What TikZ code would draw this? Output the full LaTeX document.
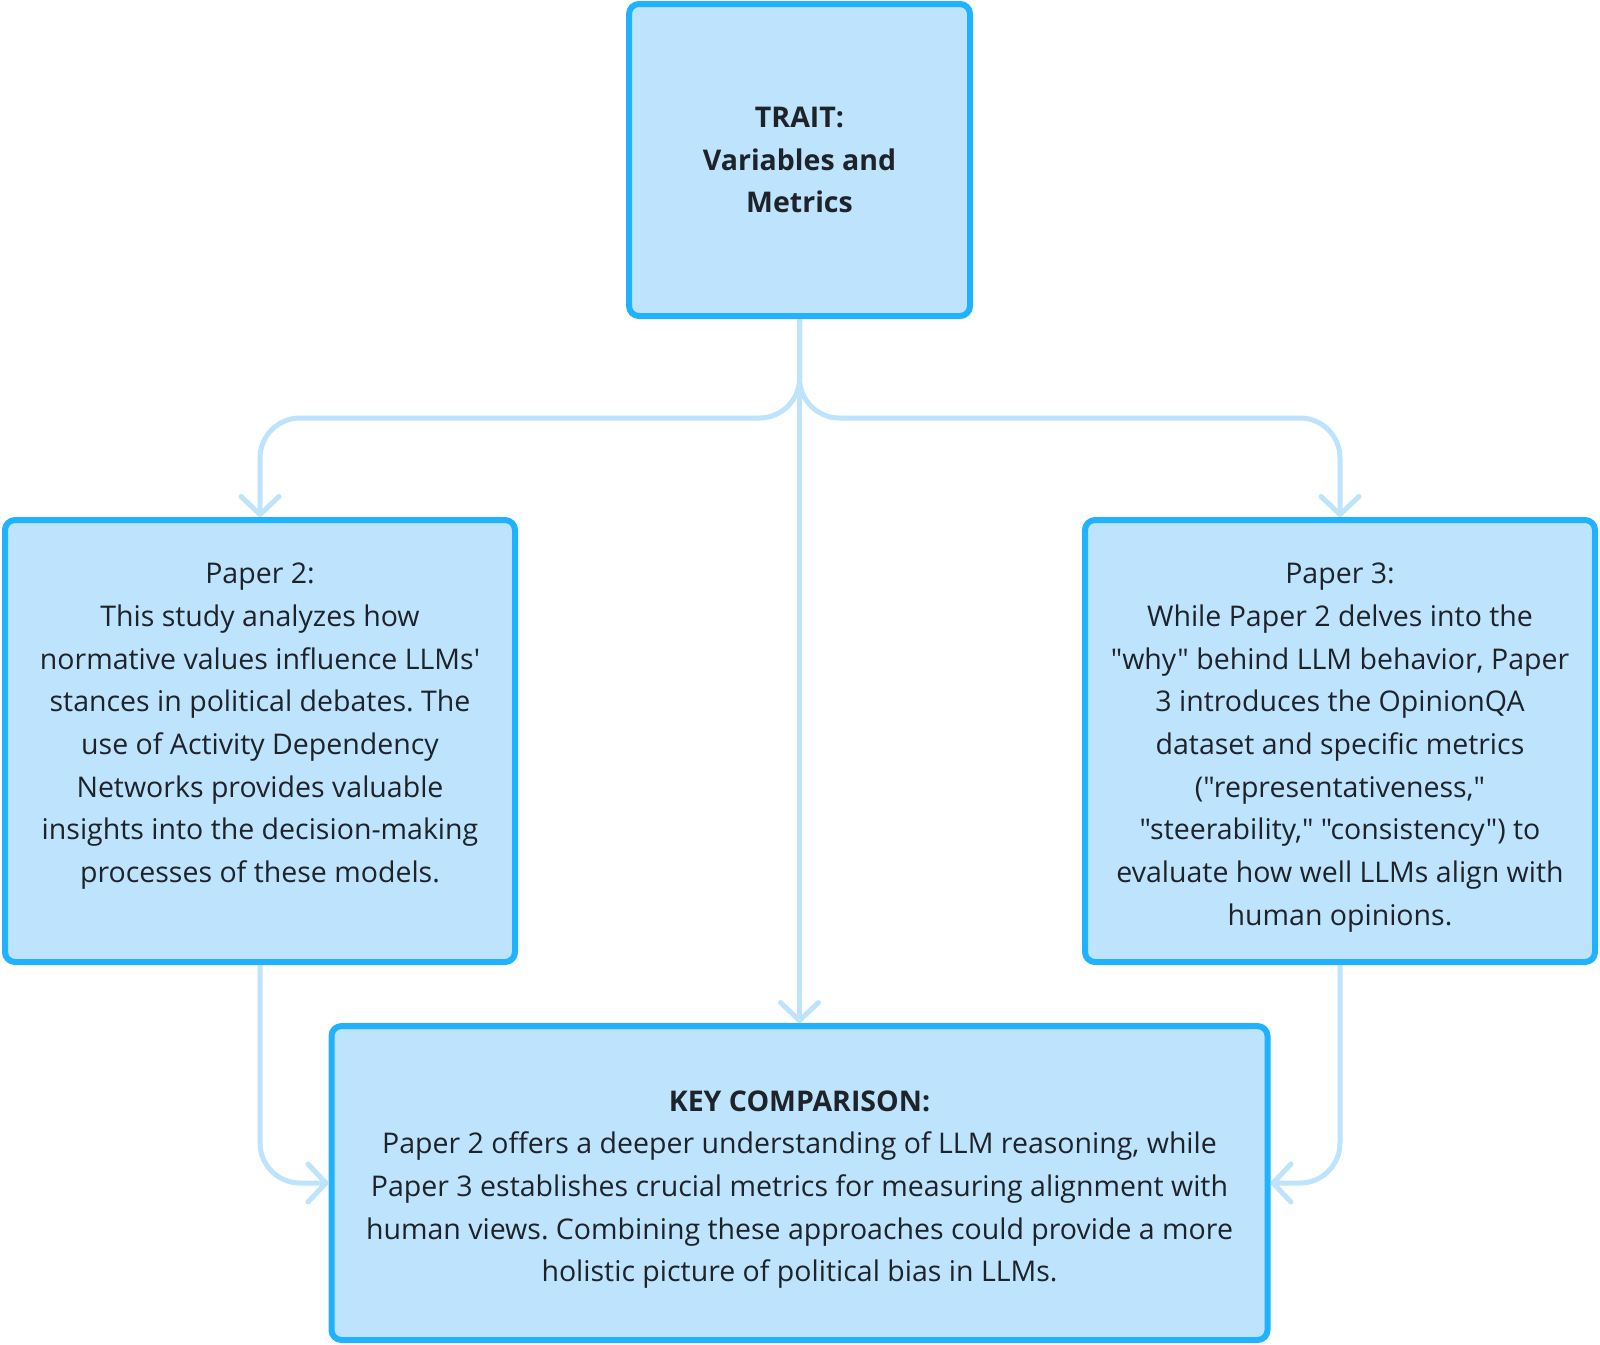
\documentclass[tikz,border=0pt]{standalone}
\usepackage{fontspec}
\setmainfont{Open Sans}[Ligatures=TeXOff]
\usetikzlibrary{arrows.meta}
\definecolor{bordercol}{HTML}{20B2FF}
\definecolor{fillcol}{HTML}{BEE3FD}
\definecolor{conncol}{HTML}{BEE3FD}
\definecolor{textcol}{HTML}{1E2329}
\frenchspacing
\tikzset{
  box/.style={draw=bordercol, fill=fillcol, line width=6pt, rounded corners=10pt,
    align=center, text=textcol, inner sep=0pt,
    font=\fontsize{28.5}{42.7}\selectfont},
  conn/.style={draw=conncol, line width=5pt, rounded corners=40pt,
    -{Straight Barb[length=18pt,width=38pt,round]}},
}
\begin{document}
\begin{tikzpicture}[x=1pt,y=-1pt]
\useasboundingbox (0,0) rectangle (1600,1344);
\node[box, minimum width=341pt, minimum height=312pt] (top) at (799.5,160)
  {\textbf{TRAIT:}\\\textbf{Variables and}\\\textbf{Metrics}};
\node[box, minimum width=510pt, minimum height=442pt] (left) at (260,741)
  {\rule{0pt}{20pt}\\[-23pt]Paper 2:\\This study analyzes how\\normative values influence LLMs'\\stances in political debates. The\\use of Activity Dependency\\Networks provides valuable\\insights into the decision-making\\processes of these models.\\\strut};
\node[box, minimum width=510pt, minimum height=442pt] (right) at (1340,741)
  {\rule{0pt}{20pt}\\[-29pt]Paper 3:\\While Paper 2 delves into the\\"why" behind LLM behavior, Paper\\3 introduces the OpinionQA\\dataset and specific metrics\\("representativeness,"\\"steerability," "consistency") to\\evaluate how well LLMs align with\\human opinions.};
\node[box, minimum width=936pt, minimum height=314pt] (bottom) at (799.5,1183)
  {\rule{0pt}{20pt}\\[-29pt]\textbf{KEY COMPARISON:}\\Paper 2 offers a deeper understanding of LLM reasoning, while\\Paper 3 establishes crucial metrics for measuring alignment with\\human views. Combining these approaches could provide a more\\holistic picture of political bias in LLMs.};
\coordinate (jy) at (0,418);
\draw[conn] (top.south) -- (bottom.north);
\draw[conn] (top.south) -- (top.south |- jy) -- (left.north |- jy) -- (left.north);
\draw[conn] (top.south) -- (top.south |- jy) -- (right.north |- jy) -- (right.north);
\draw[conn] (left.south) |- (bottom.west);
\draw[conn] (right.south) |- (bottom.east);
\end{tikzpicture}
\end{document}
